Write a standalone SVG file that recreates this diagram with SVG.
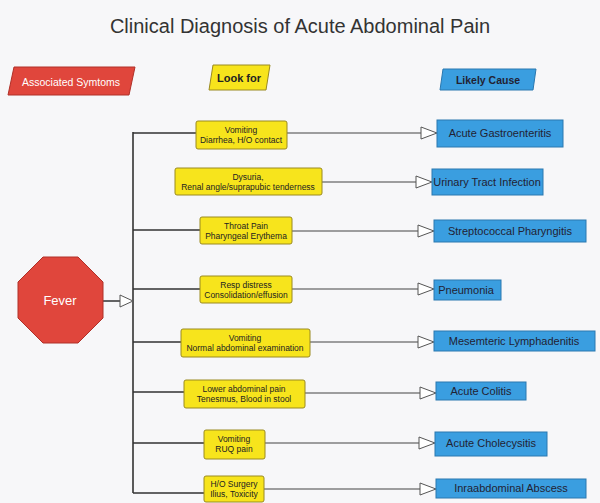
<svg xmlns="http://www.w3.org/2000/svg" width="600" height="503" viewBox="0 0 600 503">
<style>
text{font-family:"Liberation Sans",Arial,sans-serif;text-anchor:middle}
.y{fill:#f7e41c;stroke:#9a8a20;stroke-width:1}
.b{fill:#3a9ee0;stroke:#2a78b0;stroke-width:1}
.yt{font-size:8.5px;fill:#222}
.bt{font-size:11px;fill:#223}
.c{stroke:#333;stroke-width:1.6;fill:none}
.a{stroke:#555;stroke-width:1;fill:#fff}
</style>
<rect width="600" height="503" fill="#f7f7f9"/>
<text x="300" y="33" style="font-size:20px;fill:#333">Clinical Diagnosis of Acute Abdominal Pain</text>
<g id="h1"><polygon points="14,67 135,67 129,95 8,95" fill="#e0463c" stroke="#b03028"/><text x="71" y="86" style="font-size:10.5px;fill:#fff">Associated Symtoms</text></g>
<g id="h2"><polygon points="213,65 270,65 266,90 209,90" fill="#f7e41c" stroke="#9a8a20"/><text x="239" y="82" style="font-size:11px;fill:#222;font-weight:bold">Look for</text></g>
<g id="h3"><polygon points="443,69 536,69 533,90 440,90" fill="#3a9ee0" stroke="#2a78b0"/><text x="488" y="84" style="font-size:10.5px;fill:#223;font-weight:bold">Likely Cause</text></g>
<g id="connectors">
<path class="c" d="M103,301H120 M133,132V493 M133,133H196 M133,230H200 M133,289H200 M133,342H181 M133,392H184 M133,443H204 M133,493H204"/>
<path class="c" d="M287,133H421 M322,182H416 M292,231H418 M292,289H418 M310,342H418 M305,393H420 M265,443H419 M264,489H420" style="stroke-width:1.2;stroke:#444"/>
<polygon class="a" points="120,295 133,301 120,307"/>
<polygon class="a" points="421,127 437,133 421,139"/>
<polygon class="a" points="416,176 432,182 416,188"/>
<polygon class="a" points="418,225 434,231 418,237"/>
<polygon class="a" points="418,283 434,289 418,295"/>
<polygon class="a" points="418,336 434,342 418,348"/>
<polygon class="a" points="420,387 436,393 420,399"/>
<polygon class="a" points="419,437 435,443 419,449"/>
<polygon class="a" points="420,483 436,489 420,495"/>
</g>
<g id="fever"><polygon points="43,257 78,257 103,282 103,318 78,343 43,343 18,318 18,282" fill="#e0463c" stroke="#b03028"/><text x="60" y="305" style="font-size:13px;fill:#fff">Fever</text></g>
<g id="l1"><rect class="y" x="196" y="121" width="91" height="28" rx="2"/><text class="yt" x="241" y="133">Vomiting</text><text class="yt" x="241" y="143">Diarrhea, H/O contact</text></g>
<g id="l2"><rect class="y" x="175" y="168" width="147" height="27" rx="2"/><text class="yt" x="248" y="180">Dysuria,</text><text class="yt" x="248" y="190">Renal angle/suprapubic tenderness</text></g>
<g id="l3"><rect class="y" x="200" y="217" width="92" height="27" rx="2"/><text class="yt" x="246" y="229">Throat Pain</text><text class="yt" x="246" y="239">Pharyngeal Erythema</text></g>
<g id="l4"><rect class="y" x="200" y="276" width="92" height="27" rx="2"/><text class="yt" x="246" y="288">Resp distress</text><text class="yt" x="246" y="298">Consolidation/effusion</text></g>
<g id="l5"><rect class="y" x="181" y="329" width="129" height="28" rx="2"/><text class="yt" x="245" y="341">Vomiting</text><text class="yt" x="245" y="351">Normal abdominal examination</text></g>
<g id="l6"><rect class="y" x="184" y="380" width="121" height="28" rx="2"/><text class="yt" x="244" y="392">Lower abdominal pain</text><text class="yt" x="244" y="402">Tenesmus, Blood in stool</text></g>
<g id="l7"><rect class="y" x="204" y="430" width="61" height="29" rx="2"/><text class="yt" x="234" y="442">Vomiting</text><text class="yt" x="234" y="452">RUQ pain</text></g>
<g id="l8"><rect class="y" x="204" y="476" width="60" height="26" rx="2"/><text class="yt" x="234" y="487">H/O Surgery</text><text class="yt" x="234" y="497">Ilius, Toxicity</text></g>
<g id="c1"><rect class="b" x="437" y="120" width="126" height="27"/><text class="bt" x="500" y="137">Acute Gastroenteritis</text></g>
<g id="c2"><rect class="b" x="432" y="169" width="111" height="26"/><text class="bt" x="487" y="186">Urinary Tract Infection</text></g>
<g id="c3"><rect class="b" x="434" y="220" width="152" height="22"/><text class="bt" x="510" y="235">Streptococcal Pharyngitis</text></g>
<g id="c4"><rect class="b" x="434" y="280" width="67" height="20"/><text class="bt" x="466" y="294">Pneumonia</text></g>
<g id="c5"><rect class="b" x="434" y="331" width="161" height="20"/><text class="bt" x="514" y="345">Mesemteric Lymphadenitis</text></g>
<g id="c6"><rect class="b" x="436" y="382" width="90" height="18"/><text class="bt" x="481" y="395">Acute Colitis</text></g>
<g id="c7"><rect class="b" x="435" y="432" width="112" height="24"/><text class="bt" x="491" y="447">Acute Cholecysitis</text></g>
<g id="c8"><rect class="b" x="436" y="479" width="150" height="19"/><text class="bt" x="511" y="492">Inraabdominal Abscess</text></g>
</svg>
